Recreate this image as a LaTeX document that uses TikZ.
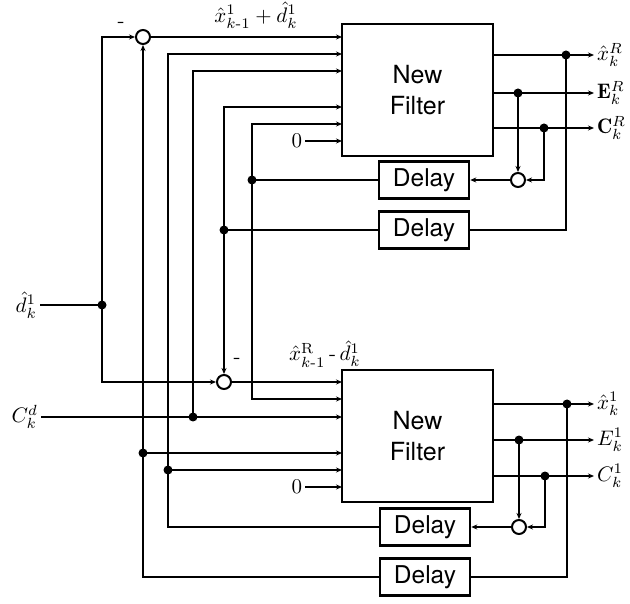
\documentclass[tikz,border=0pt]{standalone}
\usepackage{amsmath,amssymb}
\usepackage{graphicx}
\usepackage{fontspec}
\setsansfont{TeX Gyre Heros}
\usetikzlibrary{arrows.meta}
\newcommand{\mlab}[1]{\scalebox{2.1}{$#1$}}
\tikzset{
  my line style/.style={
    >={Stealth[length=6pt,width=5pt]}, % arrow tip style
    line width=2pt,                    % default line thickness
  },
  filterbox/.style={draw, line width=2.5pt, minimum width=151pt, minimum height=132pt,
    align=center, font=\fontsize{25}{31}\selectfont\sffamily},
  delaybox/.style={draw, line width=2.5pt, minimum width=90pt, minimum height=37pt,
    font=\fontsize{24.5}{29}\selectfont\sffamily},
  sumnode/.style={draw, circle, line width=2pt, minimum size=14pt, inner sep=0pt},
  lbl/.style={inner sep=2pt, font=\normalsize},
}

\begin{document}
\begin{tikzpicture}[x=1pt, y=-1pt, my line style]
    \useasboundingbox (0,0) rectangle (630,604);

    % Filters and delays
    \node[filterbox] (f1) at (417.5,90) {New\\Filter};
    \node[filterbox] (f2) at (417.5,436) {New\\Filter};
    \node[delaybox] (d1) at (424,180) {Delay};
    \node[delaybox] (d2) at (424,230) {Delay};
    \node[delaybox] (d3) at (425,527) {Delay};
    \node[delaybox] (d4) at (425,577) {Delay};

    % Summing points
    \node[sumnode] (s1) at (143,37) {};
    \node[sumnode] (s2) at (224,382) {};
    \node[sumnode] (s3) at (518,180) {};
    \node[sumnode] (s4) at (519,527) {};
    \node[lbl] (m1) at (121,25) {\mlab{\text{-}}};
    \node[lbl] (m2) at (237,361) {\mlab{\text{-}}};
    \node[lbl] (sum1) at (256,15) {\mlab{\hat{x}^1_{k\text{-}1}+\hat{d}^1_k}};
    \node[lbl] (sum2) at (325,354) {\mlab{\hat{x}^{\mathrm{R}}_{k\text{-}1}\,\text{-}\,\hat{d}^1_k}};

    % Inputs and outputs
    \node[lbl, anchor=east] (dk) at (40,305) {\mlab{\hat{d}^1_k}};
    \node[lbl, anchor=east] (cdk) at (41,417) {\mlab{C^d_k}};
    \node[lbl, anchor=east] (z1) at (305,141) {\mlab{0}};
    \node[lbl, anchor=east] (z2) at (305,487) {\mlab{0}};
    \node[lbl, anchor=west] (xR) at (594,55) {\mlab{\hat{x}^R_k}};
    \node[lbl, anchor=west] (ER) at (594,93) {\mlab{\mathbf{E}^R_k}};
    \node[lbl, anchor=west] (CR) at (594,128) {\mlab{\mathbf{C}^R_k}};
    \node[lbl, anchor=west] (x1) at (594,404) {\mlab{\hat{x}^1_k}};
    \node[lbl, anchor=west] (E1) at (594,440) {\mlab{E^1_k}};
    \node[lbl, anchor=west] (C1) at (594,476) {\mlab{C^1_k}};

    % Filter input ports
    \foreach \i/\y in {1/37, 2/54, 3/71, 4/107, 5/124, 6/141}
      \coordinate (ta\i) at (342,\y);
    \foreach \i/\y in {1/382, 2/399, 3/417, 4/453, 5/470, 6/487}
      \coordinate (ba\i) at (342,\y);

    % Junctions
    \coordinate (j1) at (102,305);
    \coordinate (j2) at (143,453);
    \coordinate (j3) at (168,470);
    \coordinate (j4) at (193,417);
    \coordinate (j5) at (224,230);
    \coordinate (j6) at (252,180);
    \coordinate (k1) at (566,55);
    \coordinate (k2) at (518,93);
    \coordinate (k3) at (544,128);
    \coordinate (k4) at (567,404);
    \coordinate (k5) at (519,440);
    \coordinate (k6) at (545,476);

    % Left side
    \draw (dk.east) -- (j1);
    \draw[->] (j1) |- (s1);
    \draw[->] (j1) |- (s2);
    \draw (d4) -| (j2);
    \draw[->] (j2) -- (s1);
    \draw[->] (j2) -- (ba4);
    \draw (d3) -| (j3);
    \draw[->] (j3) |- (ta2);
    \draw[->] (j3) -- (ba5);
    \draw[->] (cdk.east) -- (ba3);
    \draw[->] (j4) |- (ta3);
    \draw (d2) -- (j5);
    \draw[->] (j5) |- (ta4);
    \draw[->] (j5) -- (s2);
    \draw (d1) -- (j6);
    \draw[->] (j6) |- (ta5);
    \draw[->] (j6) |- (ba2);
    \draw[->] (s1) -- (ta1);
    \draw[->] (s2) -- (ba1);
    \draw[->] (z1) -- (ta6);
    \draw[->] (z2) -- (ba6);

    % Right side, top filter
    \draw[->] (f1.east |- xR.west) -- (xR.west);
    \draw[->] (f1.east |- ER.west) -- (ER.west);
    \draw[->] (f1.east |- CR.west) -- (CR.west);
    \draw (k1) |- (d2);
    \draw[->] (k2) -- (s3);
    \draw[->] (k3) |- (s3);
    \draw[->] (s3) -- (d1);

    % Right side, bottom filter
    \draw[->] (f2.east |- x1.west) -- (x1.west);
    \draw[->] (f2.east |- E1.west) -- (E1.west);
    \draw[->] (f2.east |- C1.west) -- (C1.west);
    \draw (k4) |- (d4);
    \draw[->] (k5) -- (s4);
    \draw[->] (k6) |- (s4);
    \draw[->] (s4) -- (d3);

    % Junction dots
    \foreach \j in {j1,j2,j3,j4,j5,j6,k1,k2,k3,k4,k5,k6}
      \fill (\j) circle[radius=4.5pt];
\end{tikzpicture}
\end{document}
